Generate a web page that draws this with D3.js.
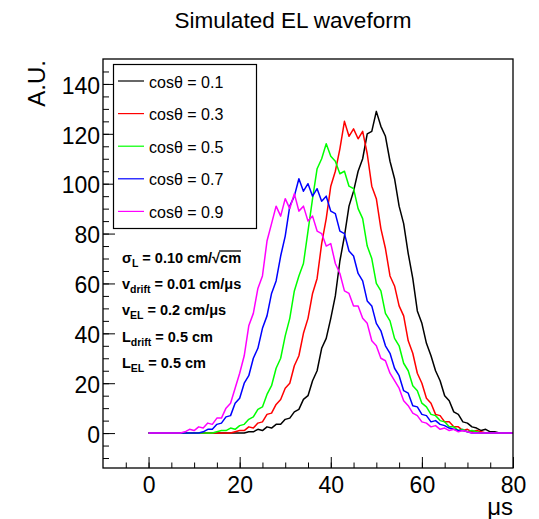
<!DOCTYPE html>
<html>
<head>
<meta charset="utf-8">
<script src="https://cdn.jsdelivr.net/npm/d3@7"></script>
<style>
  html, body { margin: 0; padding: 0; background: #fff; }
  svg text { font-family: "Liberation Sans", Arial, Helvetica, sans-serif; fill: #000; }
</style>
</head>
<body>
<div id="chart"></div>
<script>
// bin centres in microseconds, one per 1 us from 0 to 80
const binTimes = d3.range(0, 81, 1);

const seriesLabels = ["cos\u03b8 = 0.1", "cos\u03b8 = 0.3", "cos\u03b8 = 0.5", "cos\u03b8 = 0.7", "cos\u03b8 = 0.9"];
const seriesColors = ["#000000", "#ff0000", "#00ff00", "#0000ff", "#ff00ff"];

// values (A.U.)
const cos01 = [
  0, 0, 0, 0, 0, 0, 0, 0, 0, 0,
  0, 0, 0, 0, 0, 0, 0, 0, 0, 0,
  0, 0, 0.5, 0.5, 1.5, 1, 2.5, 2, 3.5, 3.5,
  5.5, 6, 8.5, 9.5, 13.5, 15, 21, 25, 34, 38,
  46, 55, 69, 79, 91, 97, 105, 110, 120, 121,
  129, 123, 119, 109, 102, 91, 84, 72, 62, 49,
  44, 36, 31, 25, 21, 15, 13, 8.5, 7.5, 4.5,
  4, 2.5, 2, 1, 1.5, 0.5, 0.5, 0, 0, 0,
  0
];
const cos03 = [
  0, 0, 0, 0, 0, 0, 0, 0, 0, 0,
  0, 0, 0, 0, 0, 0, 0, 0, 0, 0.5,
  1, 1, 2.5, 2, 4, 4.5, 7.5, 8, 11.5, 13.5,
  18, 20, 27, 31, 40, 46, 56, 62, 76, 86,
  99, 105, 114, 125, 119, 122, 118, 121, 112, 99,
  94, 82, 74, 63, 59, 51, 47, 37, 32, 24,
  20, 14, 12, 7.5, 7, 4.5, 4.5, 2.5, 2.5, 1,
  1.5, 0.5, 1, 0.5, 0, 0, 0, 0, 0, 0,
  0
];
const cos05 = [
  0, 0, 0, 0, 0, 0, 0, 0, 0, 0,
  0, 0, 0, 0, 0, 0.5, 1, 1, 2, 1.5,
  3, 3.5, 5.5, 6.5, 9.5, 10.5, 15.5, 19, 26, 30,
  39, 46, 57, 63, 68, 81, 94, 106, 110, 116,
  111, 109, 104, 105, 99, 98, 90, 86, 75, 70,
  60, 57, 48, 45, 38, 35, 28, 25, 19, 17,
  12, 10.5, 7.5, 7, 5, 4.5, 2.5, 2.5, 1, 1.5,
  0.5, 1, 0.5, 0, 0, 0, 0, 0, 0, 0,
  0
];
const cos07 = [
  0, 0, 0, 0, 0, 0, 0, 0, 0, 0,
  0, 0, 0.5, 1.5, 1.5, 3.5, 4, 6.5, 7, 12,
  14, 20, 23, 30, 34, 42, 47, 56, 61, 71,
  79, 91, 95, 102, 97, 100, 95, 98, 93, 95,
  89, 88, 81, 80, 73, 71, 64, 61, 53, 51,
  44, 41, 35, 32, 26, 23, 17, 16, 11, 10.5,
  7.5, 7, 4.5, 5, 3.5, 3, 2, 1.5, 1, 1,
  0.5, 0, 0, 0, 0, 0, 0, 0, 0, 0,
  0
];
const cos09 = [
  0, 0, 0, 0, 0, 0, 0, 0, 0.5, 1.5,
  1, 2.5, 2, 4, 3.5, 6, 6, 10, 12, 18,
  24, 31, 43, 48, 58, 63, 77, 84, 91, 87,
  94, 90, 96, 89, 91, 85, 87, 81, 80, 75,
  76, 68, 64, 57, 56, 51, 51, 46, 44, 37,
  35, 30, 29, 24, 21, 18, 13, 11, 8, 7,
  4.5, 4, 2.5, 3, 1.5, 2, 1, 1.5, 0.5, 1,
  0.5, 0, 0, 0, 0, 0, 0, 0, 0, 0,
  0
];

const xTickValues = [0, 20, 40, 60, 80];
const yTickValues = [0, 20, 40, 60, 80, 100, 120, 140];

// each line: main symbol, subscript, rest, optional overlined tail
const paramLines = [
  ["\u03c3", "L", " = 0.10 cm/\u221a", "cm"],
  ["v", "drift", " = 0.01 cm/\u03bcs", ""],
  ["v", "EL", " = 0.2 cm/\u03bcs", ""],
  ["L", "drift", " = 0.5 cm", ""],
  ["L", "EL", " = 0.5 cm", ""],
];

class WaveformChart {
  constructor(el) {
    this.el = el;
    this.series = [cos01, cos03, cos05, cos07, cos09];
    this._setup();
    this._scaffold();
    this._render();
  }

  _setup() {
    this.width = 539;
    this.height = 519;
    this.frame = { left: 103, right: 513, top: 59, bottom: 468 };

    this.x = d3
      .scaleLinear()
      .domain([-10, 80])
      .range([this.frame.left, this.frame.right]);
    this.y = d3
      .scaleLinear()
      .domain([-14, 150])
      .range([this.frame.bottom, this.frame.top]);

    this.line = d3
      .line()
      .x((d, i) => this.x(binTimes[i]))
      .y((d) => this.y(d));
  }

  _scaffold() {
    d3.select(this.el).selectAll("*").remove();

    this.svg = d3
      .select(this.el)
      .append("svg")
      .attr("width", this.width)
      .attr("height", this.height);

    this.svg
      .append("text")
      .attr("x", 293)
      .attr("y", 28)
      .attr("text-anchor", "middle")
      .attr("font-size", 22.5)
      .text("Simulated EL waveform");

    this.plot = this.svg.append("g");
  }

  _axes() {
    const f = this.frame;

    // minor ticks
    this.plot
      .append("g")
      .attr("transform", `translate(0,${f.bottom})`)
      .call(d3.axisBottom(this.x).tickValues(d3.range(-5, 80, 5)).tickSize(-5.5).tickFormat(""))
      .call((g) => g.select(".domain").remove());
    this.plot
      .append("g")
      .attr("transform", `translate(${f.left},0)`)
      .call(d3.axisLeft(this.y).tickValues(d3.range(-10, 150, 5)).tickSize(-6).tickFormat(""))
      .call((g) => g.select(".domain").remove());

    // major ticks + labels
    const gx = this.plot
      .append("g")
      .attr("transform", `translate(0,${f.bottom})`)
      .call(d3.axisBottom(this.x).tickValues(xTickValues).tickSize(-11).tickPadding(9));
    gx.select(".domain").remove();

    const gy = this.plot
      .append("g")
      .attr("transform", `translate(${f.left},0)`)
      .call(d3.axisLeft(this.y).tickValues(yTickValues).tickSize(-12).tickPadding(3));
    gy.select(".domain").remove();
    gy.selectAll("text").attr("dy", "0.4em");

    [gx, gy].forEach((g) => {
      g.attr("font-size", 23).attr("font-family", null);
      g.selectAll("text").attr("fill", "#000");
    });
    this.plot.selectAll("g line").attr("stroke", "#000");

    this.svg
      .append("text")
      .attr("transform", "translate(45,60) rotate(-90)")
      .attr("text-anchor", "end")
      .attr("font-size", 24)
      .text("A.U.");

    this.svg
      .append("text")
      .attr("x", f.right)
      .attr("y", 515)
      .attr("text-anchor", "end")
      .attr("font-size", 24)
      .text("\u03bcs");
  }

  _legend() {
    const lg = this.svg.append("g");
    lg.append("rect")
      .attr("x", 113.5)
      .attr("y", 64.5)
      .attr("width", 143)
      .attr("height", 164)
      .attr("fill", "#fff")
      .attr("stroke", "#000")
      .attr("stroke-width", 1.2);

    seriesLabels.forEach((label, i) => {
      const cy = 81 + i * 32.6;
      lg.append("line")
        .attr("x1", 118)
        .attr("x2", 144)
        .attr("y1", cy)
        .attr("y2", cy)
        .attr("stroke", seriesColors[i])
        .attr("stroke-width", 1.2);
      lg.append("text")
        .attr("x", 149)
        .attr("y", cy + 6.5)
        .attr("font-size", 16)
        .text(label);
    });
  }

  _params() {
    const pg = this.svg.append("g").attr("font-weight", "bold");
    paramLines.forEach((p, i) => {
      const base = 263 + i * 26.2;
      const t = pg
        .append("text")
        .attr("x", 122)
        .attr("y", base)
        .attr("font-size", 14.5);
      t.append("tspan").text(p[0]);
      t.append("tspan").attr("font-size", 10.5).attr("dy", 4).text(p[1]);
      t.append("tspan").attr("dy", -4).text(p[2]);
      if (p[3]) {
        t.append("tspan").text(p[3]);
        const node = t.node();
        const n = node.getNumberOfChars();
        const x0 = node.getStartPositionOfChar(n - p[3].length).x;
        const x1 = node.getEndPositionOfChar(n - 1).x;
        pg.append("line")
          .attr("x1", x0 - 1)
          .attr("x2", x1)
          .attr("y1", base - 12)
          .attr("y2", base - 12)
          .attr("stroke", "#000")
          .attr("stroke-width", 1.3);
      }
    });
  }

  _render() {
    const f = this.frame;

    this.plot
      .selectAll("path.wave")
      .data(this.series)
      .join("path")
      .attr("class", "wave")
      .attr("fill", "none")
      .attr("stroke", (d, i) => seriesColors[i])
      .attr("stroke-width", 1.5)
      .attr("stroke-linejoin", "round")
      .attr("d", (d) => this.line(d));

    this.plot
      .append("rect")
      .attr("x", f.left)
      .attr("y", f.top)
      .attr("width", f.right - f.left)
      .attr("height", f.bottom - f.top)
      .attr("fill", "none")
      .attr("stroke", "#000")
      .attr("stroke-width", 1.3);

    this._axes();
    this._legend();
    this._params();
  }
}

new WaveformChart(document.getElementById("chart"));
</script>
</body>
</html>
